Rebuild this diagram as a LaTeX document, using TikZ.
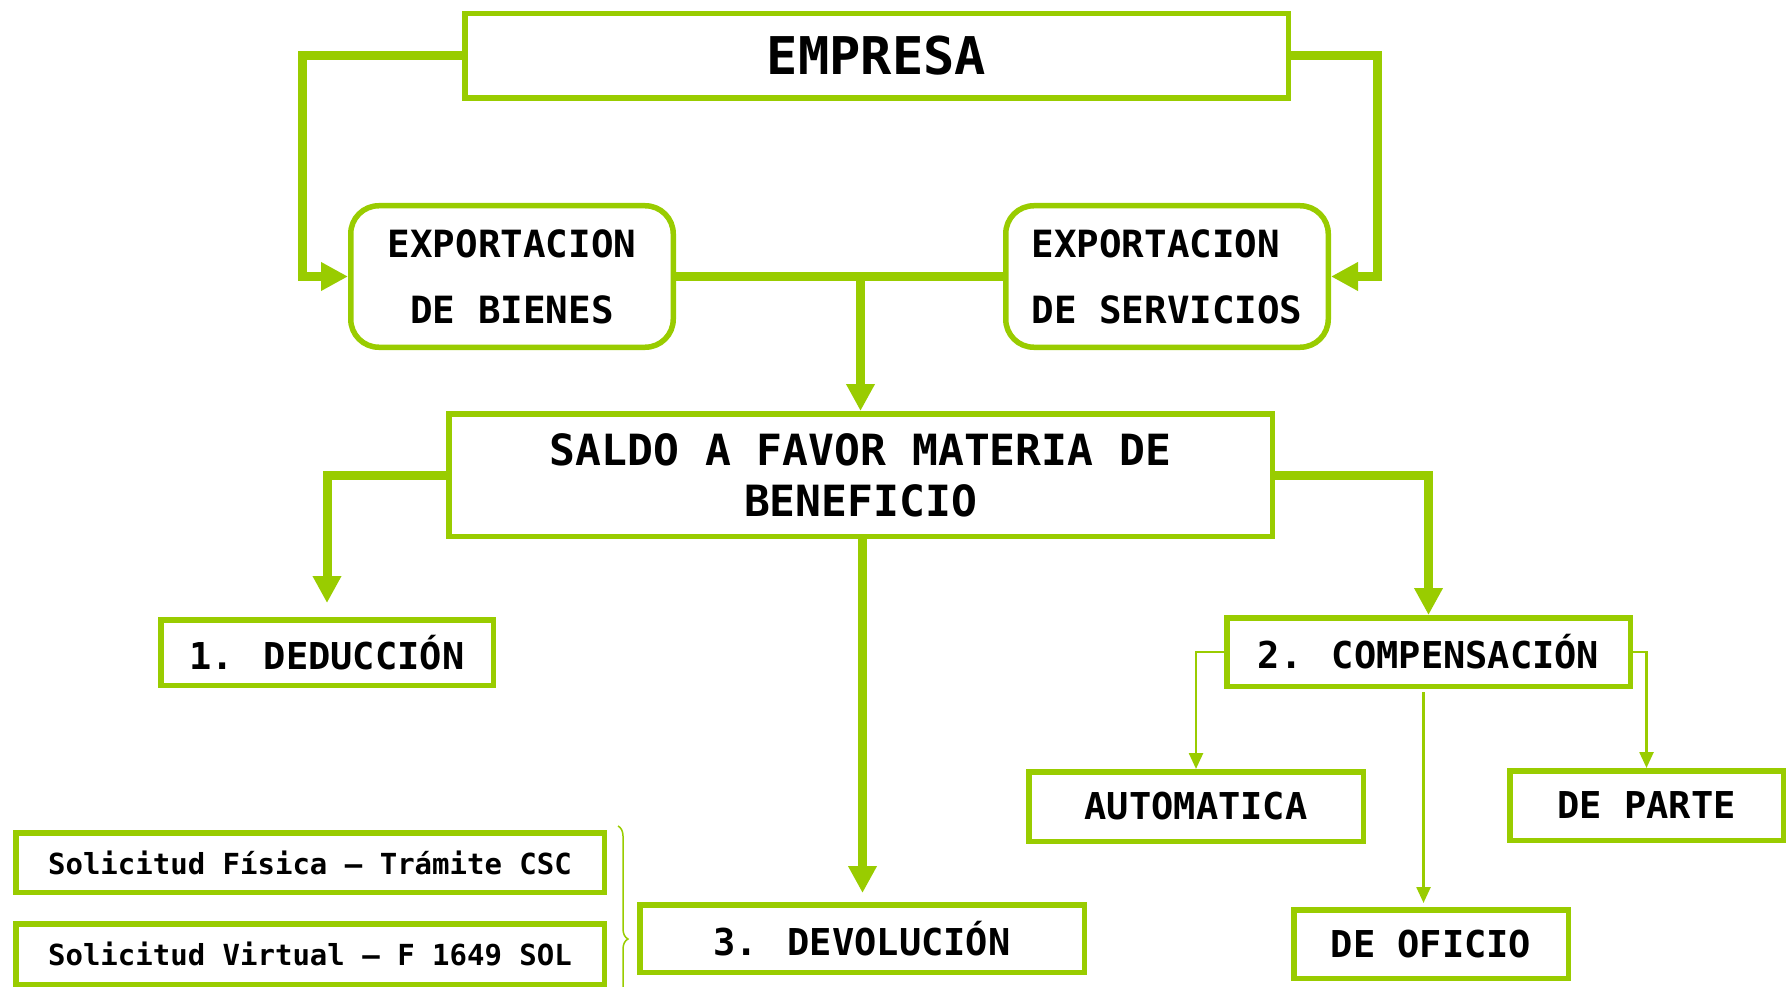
\documentclass[tikz,border=0pt]{standalone}
\usepackage{fontspec}
\setmainfont{DejaVu Sans Mono}
\usetikzlibrary{arrows.meta, decorations.pathreplacing}
\definecolor{verde}{RGB}{153,204,0}

\newcommand{\bordw}{5.5pt}
\newcommand{\gn}{\node[rectangle, draw=verde, line width=\bordw, inner sep=0pt, align=center]}
\newcommand{\rn}{\gn[rounded corners=28pt]}
\newcommand{\fsz}[2]{\fontsize{#1}{#2}\selectfont\bfseries}

\tikzset{
  gruesa/.style={draw=verde, line width=9pt, -{Triangle[length=27pt,width=27pt]}},
  fina/.style={draw=verde, line width=2.5pt, -{Triangle[length=16pt,width=14pt]}},
}

\begin{document}
\begin{tikzpicture}[x=1pt, y=-1pt]
            \useasboundingbox (0,0) rectangle (1788,987);

            \gn[minimum width=823.5pt, minimum height=84.5pt, font=\fsz{52}{60}] (emp) at (876.5,56) {EMPRESA};
            \rn[minimum width=322.5pt, minimum height=141.5pt, font=\fsz{37.5}{66}] (expb) at (512,276.5) {EXPORTACION\\DE BIENES};
            \rn[minimum width=322.5pt, minimum height=141.5pt, font=\fsz{37.5}{66}, align=left] (exps) at (1167,276.5) {EXPORTACION\\DE SERVICIOS};
            \gn[minimum width=823.5pt, minimum height=122.5pt, font=\fsz{43}{51}] (saldo) at (860.5,475) {SALDO A FAVOR MATERIA DE\\BENEFICIO};

            \gn[minimum width=332.5pt, minimum height=65.5pt, font=\fsz{37}{44}] (ded) at (327,652.5) {1. DEDUCCIÓN};
            \gn[minimum width=403.5pt, minimum height=68.5pt, font=\fsz{37}{44}] (comp) at (1428.5,652) {2. COMPENSACIÓN};
            \gn[minimum width=444.5pt, minimum height=67.5pt, font=\fsz{37}{44}] (dev) at (862,938.5) {3. DEVOLUCIÓN};

            \gn[minimum width=334.5pt, minimum height=69.5pt, font=\fsz{37}{44}] (auto) at (1196,806.5) {AUTOMATICA};
            \gn[minimum width=273.5pt, minimum height=69.5pt, font=\fsz{37}{44}] (parte) at (1646.5,805.5) {DE PARTE};
            \gn[minimum width=274.5pt, minimum height=68.5pt, font=\fsz{37}{44}] (ofic) at (1431,944) {DE OFICIO};

            \gn[minimum width=588.5pt, minimum height=59.5pt, font=\fsz{29}{34}] (solf) at (310,862.5) {Solicitud Física – Trámite CSC};
            \gn[minimum width=588.5pt, minimum height=60.5pt, font=\fsz{29}{34}] (solv) at (310,954) {Solicitud Virtual – F 1649 SOL};

            \coordinate (bendl) at (302,56);
            \coordinate (bendr) at (1377,56);
            \coordinate (llave1) at (618,826);
            \coordinate (llave2) at (618,1052);

            % de la empresa a las exportaciones
            \draw[gruesa] (emp.west) -- (bendl) |- (expb.west);
            \draw[gruesa] (emp.east) -- (bendr) |- (exps.east);

            \draw[draw=verde, line width=9pt]
                (expb.east) -- (exps.west);
            \draw[gruesa] (expb.east -| saldo.north) -- (saldo.north);

            % saldo a favor
            \draw[gruesa, shorten >=14pt] (saldo.west) -| (ded.north);
            \draw[gruesa] (saldo.east) -| (comp.north);
            \draw[gruesa, shorten >=9pt] ([xshift=2pt]saldo.south) -- ([xshift=2pt]saldo.south |- dev.north);

            % compensacion
            \draw[fina] (comp.west) -| (auto.north);
            \draw[fina] (comp.east) -| (parte.north);
            \draw[fina, shorten <=3pt, shorten >=4pt] ([xshift=-5pt]comp.south) -- ([xshift=-5pt]comp.south |- ofic.north);

            \draw[verde, line width=1.5pt, decorate, decoration={brace, amplitude=10pt}]
                (llave1) -- (llave2);

        \end{tikzpicture}
\end{document}
